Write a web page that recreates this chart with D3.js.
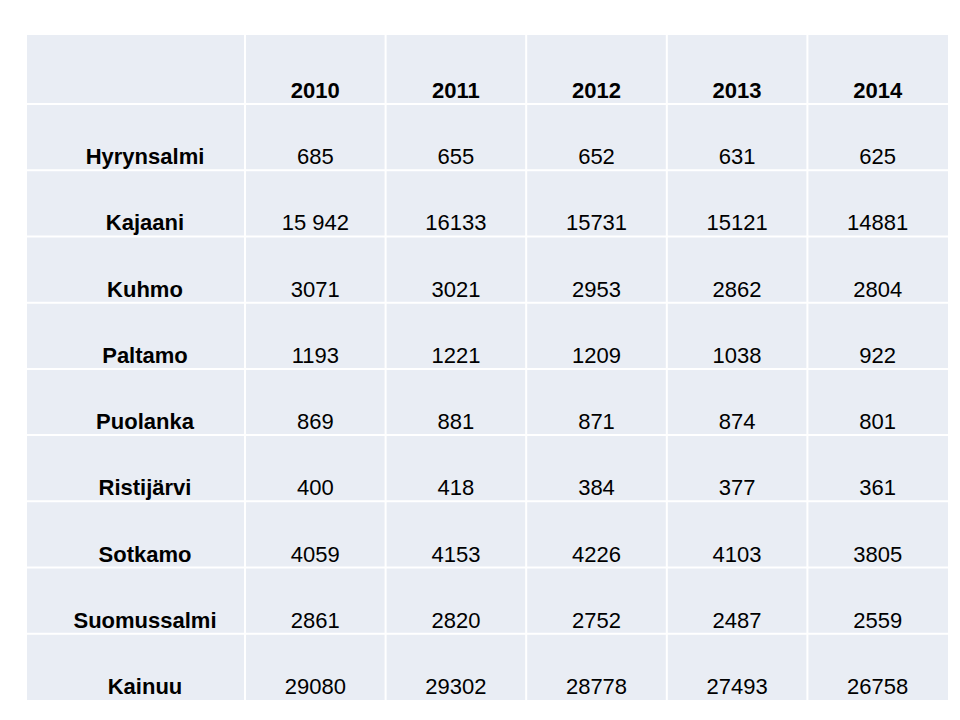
<!DOCTYPE html><html><head><meta charset="utf-8"><script src="https://cdn.jsdelivr.net/npm/d3@7"></script>
<style>body{margin:0;background:#fff}</style></head><body><svg id="c" width="960" height="720"></svg><script>
const years=["2010","2011","2012","2013","2014"];
const municipalities=["Hyrynsalmi","Kajaani","Kuhmo","Paltamo","Puolanka","Ristijärvi","Sotkamo","Suomussalmi","Kainuu"];
const values=[
["685","655","652","631","625"],
["15 942","16133","15731","15121","14881"],
["3071","3021","2953","2862","2804"],
["1193","1221","1209","1038","922"],
["869","881","871","874","801"],
["400","418","384","377","361"],
["4059","4153","4226","4103","3805"],
["2861","2820","2752","2487","2559"],
["29080","29302","28778","27493","26758"]];
const svg=d3.select("#c");
const L=27,R=948,T=35,B=700,headerH=69,firstW=218;
const x=d3.scaleBand().domain(years).range([L+firstW,R]);
const y=d3.scaleBand().domain(municipalities).range([T+headerH,B]);
const font="'Liberation Sans',sans-serif";
svg.append("rect").attr("x",L).attr("y",T).attr("width",R-L).attr("height",B-T).attr("fill","#e9edf4");
const g=svg.append("g").attr("stroke","#fff").attr("stroke-width",2);
[L+firstW,...years.slice(1).map(d=>x(d))].forEach(v=>g.append("line").attr("x1",v).attr("x2",v).attr("y1",T).attr("y2",B));
[T+headerH,...municipalities.slice(1).map(d=>y(d))].forEach(v=>g.append("line").attr("x1",L).attr("x2",R).attr("y1",v).attr("y2",v));
const t=svg.append("g").attr("font-family",font).attr("font-size",22).attr("text-anchor","middle").attr("fill","#000");
years.forEach(yr=>t.append("text").attr("x",x(yr)+x.bandwidth()/2).attr("y",T+headerH-6).attr("font-weight","bold").text(yr));
municipalities.forEach((m,i)=>{
 const by=y(m)+y.bandwidth()-6;
 t.append("text").attr("x",L+firstW/2+9).attr("y",by).attr("font-weight","bold").text(m);
 values[i].forEach((v,j)=>t.append("text").attr("x",x(years[j])+x.bandwidth()/2).attr("y",by).text(v));
});
</script></body></html>
